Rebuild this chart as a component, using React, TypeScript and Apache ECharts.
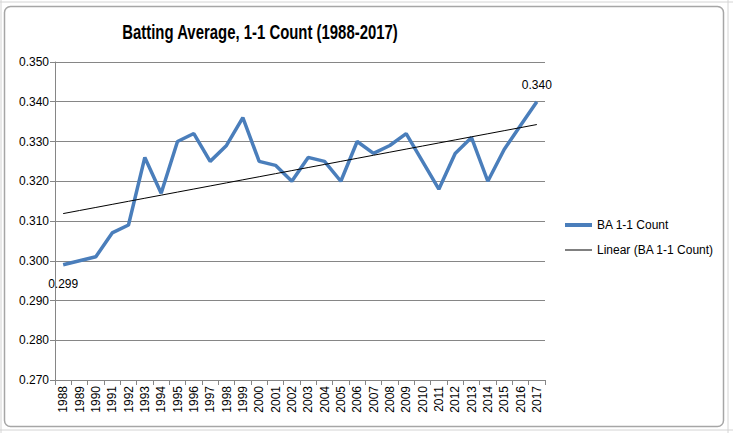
import React, { useEffect, useRef } from "react";
import * as echarts from "echarts";

const years = [
  "1988", "1989", "1990", "1991", "1992", "1993", "1994", "1995", "1996", "1997",
  "1998", "1999", "2000", "2001", "2002", "2003", "2004", "2005", "2006", "2007",
  "2008", "2009", "2010", "2011", "2012", "2013", "2014", "2015", "2016", "2017",
];
const baValues = [
  0.299, 0.300, 0.301, 0.307, 0.309, 0.326, 0.317, 0.330, 0.332, 0.325,
  0.329, 0.336, 0.325, 0.324, 0.320, 0.326, 0.325, 0.320, 0.330, 0.327,
  0.329, 0.332, 0.325, 0.318, 0.327, 0.331, 0.320, 0.328, 0.334, 0.340,
];
const seriesName = "BA 1-1 Count";
const trendName = "Linear (BA 1-1 Count)";
const titleText = "Batting Average, 1-1 Count (1988-2017)";

function linearFit(vals: number[]): number[] {
  const n = vals.length;
  let sx = 0, sy = 0, sxx = 0, sxy = 0;
  vals.forEach((y, i) => {
    const x = i + 1;
    sx += x; sy += y; sxx += x * x; sxy += x * y;
  });
  const slope = (n * sxy - sx * sy) / (n * sxx - sx * sx);
  const intercept = (sy - slope * sx) / n;
  return vals.map((_, i) => intercept + slope * (i + 1));
}

const FONT = "'Liberation Sans', Arial, sans-serif";

export default function App() {
  const ref = useRef<HTMLDivElement>(null);
  useEffect(() => {
    document.body.style.margin = "0";
    if (!ref.current) return;
    const chart = echarts.init(ref.current, null, { renderer: "svg" });
    const last = baValues.length - 1;
    const trend = linearFit(baValues);
    const labelStyle = {
      show: true,
      fontFamily: FONT,
      fontSize: 12,
      color: "#000",
      formatter: (p: any) => Number(p.value).toFixed(3),
    };
    chart.setOption({
      animation: false,
      backgroundColor: "#ffffff",
      graphic: [
        { type: "line", shape: { x1: 0, y1: 2, x2: 733, y2: 2 }, style: { stroke: "#d4d4d4", lineWidth: 1 }, z: -10 },
        { type: "line", shape: { x1: 728, y1: 0, x2: 728, y2: 433 }, style: { stroke: "#d4d4d4", lineWidth: 1 }, z: -10 },
        { type: "line", shape: { x1: 0, y1: 430, x2: 733, y2: 430 }, style: { stroke: "#d4d4d4", lineWidth: 1 }, z: -10 },
        { type: "line", shape: { x1: 1, y1: 0, x2: 1, y2: 433 }, style: { stroke: "#d4d4d4", lineWidth: 1 }, z: -10 },
        {
          type: "rect",
          shape: { x: 4.5, y: 6.5, width: 719, height: 420, r: 6 },
          style: { fill: "#ffffff", stroke: "#a6a6a6", lineWidth: 1.5 },
          z: -5,
        },
        {
          type: "text",
          x: 260,
          y: 32,
          scaleX: 0.71,
          style: {
            text: titleText,
            textAlign: "center",
            textVerticalAlign: "middle",
            font: "bold 21px 'Liberation Sans', Arial, sans-serif",
            fill: "#000000",
          },
          z: 10,
        },
      ],
      grid: { left: 55, right: 188, top: 62, bottom: 53, containLabel: false },
      legend: {
        orient: "vertical",
        left: 565,
        top: 219,
        padding: 0,
        itemWidth: 27,
        itemHeight: 12,
        itemGap: 13,
        textStyle: { fontFamily: FONT, fontSize: 12, color: "#000" },
        data: [
          { name: seriesName, icon: "path://M0,0H27V4H0Z", itemStyle: { color: "#4a7ebb" } },
          { name: trendName, icon: "path://M0,0H27V1H0Z", itemStyle: { color: "#000000" } },
        ],
      },
      xAxis: {
        type: "category",
        data: years,
        boundaryGap: true,
        axisLine: { lineStyle: { color: "#868686", width: 1 } },
        axisTick: { show: true, length: 5, interval: 0, lineStyle: { color: "#868686" } },
        axisLabel: {
          rotate: 90,
          interval: 0,
          margin: 6,
          fontFamily: FONT,
          fontSize: 12,
          color: "#000",
        },
        splitLine: { show: false },
      },
      yAxis: {
        type: "value",
        min: 0.27,
        max: 0.35,
        interval: 0.01,
        axisLine: { show: true, lineStyle: { color: "#868686", width: 1 } },
        axisTick: { show: true, length: 5, lineStyle: { color: "#868686" } },
        axisLabel: {
          margin: 6,
          fontFamily: FONT,
          fontSize: 12,
          color: "#000",
          formatter: (v: number) => v.toFixed(3),
        },
        splitLine: { show: true, lineStyle: { color: "#868686", width: 1 } },
      },
      series: [
        {
          name: seriesName,
          type: "line",
          data: baValues,
          symbol: "none",
          color: "#4a7ebb",
          lineStyle: { color: "#4a7ebb", width: 3.5 },
          markPoint: {
            symbol: "circle",
            symbolSize: 0,
            silent: true,
            data: [
              {
                coord: [years[0], baValues[0]],
                value: baValues[0],
                label: { ...labelStyle, position: "bottom", distance: 13 },
              },
              {
                coord: [years[last], baValues[last]],
                value: baValues[last],
                label: { ...labelStyle, position: "top", distance: 11 },
              },
            ],
          },
          z: 3,
        },
        {
          name: trendName,
          type: "line",
          data: trend,
          symbol: "none",
          color: "#000000",
          lineStyle: { color: "#000000", width: 1 },
          z: 4,
        },
      ],
    });
    return () => chart.dispose();
  }, []);
  return <div ref={ref} style={{ width: 733, height: 433 }} />;
}
